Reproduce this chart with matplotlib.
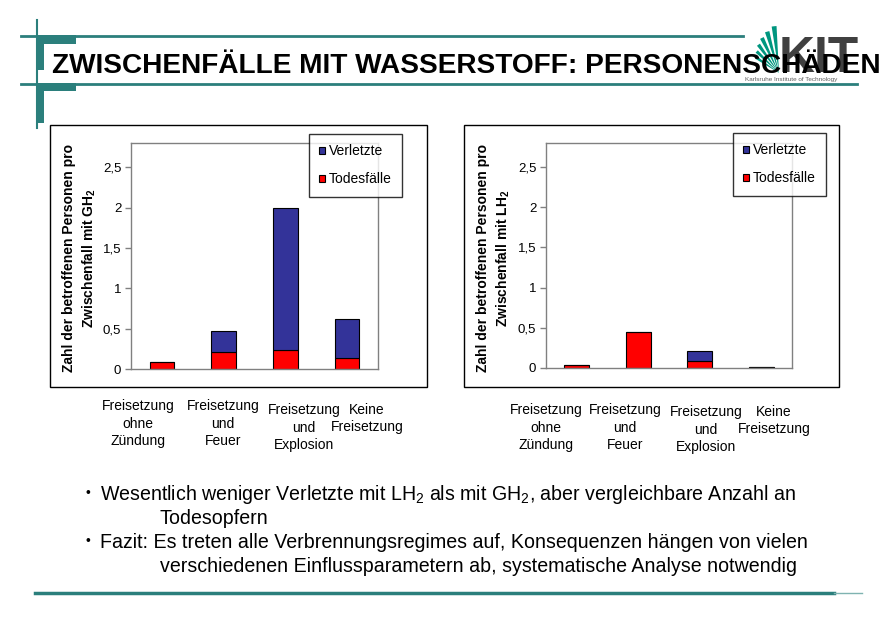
import numpy as np
import matplotlib
matplotlib.use("Agg")
import matplotlib.pyplot as plt
from matplotlib.patches import Rectangle, Wedge
from matplotlib import font_manager

# data (stacked: Todesfaelle at bottom, Verletzte on top)
categories = ["Freisetzung\nohne\nZündung", "Freisetzung\nund\nFeuer",
              "Freisetzung\nund\nExplosion", "Keine\nFreisetzung"]
gh2_tote = [0.09, 0.21, 0.24, 0.14]
gh2_verletzte = [0.0, 0.26, 1.76, 0.48]
lh2_tote = [0.04, 0.45, 0.09, 0.01]
lh2_verletzte = [0.0, 0.0, 0.12, 0.0]
yticks = [0, 0.5, 1, 1.5, 2, 2.5]
yticklabels = ["0", "0,5", "1", "1,5", "2", "2,5"]

title = "ZWISCHENFÄLLE MIT WASSERSTOFF: PERSONENSCHÄDEN"
bullets = [
    "Wesentlich weniger Verletzte mit LH$_2$ als mit GH$_2$, aber vergleichbare Anzahl an",
    "Todesopfern",
    "Fazit: Es treten alle Verbrennungsregimes auf, Konsequenzen hängen von vielen",
    "verschiedenen Einflussparametern ab, systematische Analyse notwendig",
]

plt.rcParams['font.family'] = ['Liberation Sans', 'DejaVu Sans']
plt.rcParams['mathtext.fontset'] = 'custom'
plt.rcParams['mathtext.rm'] = 'Liberation Sans'
plt.rcParams['mathtext.it'] = 'Liberation Sans:italic'
plt.rcParams['mathtext.bf'] = 'Liberation Sans:bold'

names = {f.name for f in font_manager.fontManager.ttflist}
narrow = 'Liberation Sans Narrow' if 'Liberation Sans Narrow' in names else 'Liberation Sans'

W, H = 890, 629
fig = plt.figure(figsize=(W / 100, H / 100), dpi=100)
teal = '#2b7f7c'
blue = '#333399'
red = '#ff0000'

# overlay in pixel coords for the slide decoration
ov = fig.add_axes([0, 0, 1, 1], zorder=0)
ov.set_xlim(0, W)
ov.set_ylim(H, 0)
ov.axis('off')

def fit(t, width_px):
    r = fig.canvas.get_renderer()
    w = t.get_window_extent(renderer=r).width
    t.set_fontsize(t.get_fontsize() * width_px / w)

# teal frame lines
ov.plot([37, 37], [20, 128], color=teal, lw=1.5)
ov.plot([21, 743], [36, 36], color=teal, lw=2)
ov.plot([21, 857], [83.5, 83.5], color=teal, lw=2)
ov.add_patch(Rectangle((36, 35), 40, 9, color=teal, lw=0))
ov.add_patch(Rectangle((36, 35), 8, 35, color=teal, lw=0))
ov.add_patch(Rectangle((36, 83), 40, 8, color=teal, lw=0))
ov.add_patch(Rectangle((36, 83), 8, 40, color=teal, lw=0))
ov.plot([35, 834], [593, 593], color=teal, lw=2.5)
ov.plot([834, 862], [593, 593], color='#7fb3b1', lw=1)

# KIT logo (rough): fan of wedges, y axis is flipped so angles are negated
for a in range(6):
    th = 93 + a * 10
    ov.add_patch(Wedge((779, 73), 47 - a * 4, -(th + 6), -th, color='#00967f', lw=0, zorder=1))
kit = ov.text(779, 72, "KIT", fontsize=40, fontweight='bold', color='#404040',
              family=narrow, ha='left', va='baseline', zorder=1)
fit(kit, 80)
ov.text(745, 79, "Karlsruhe Institute of Technology", fontsize=4.6, color='#606060',
        ha='left', va='center', zorder=3)

tt = ov.text(52, 73, title, fontsize=20, fontweight='bold', family=narrow,
             ha='left', va='baseline', zorder=2)
fit(tt, 828)

# outer chart boxes
ov.add_patch(Rectangle((50, 125), 377, 262, fill=False, ec='black', lw=1))
ov.add_patch(Rectangle((464, 125), 375, 262, fill=False, ec='black', lw=1))

def chart(rect, tote, verl, gas, ylabel_x, label_xy, leg_xy, cat_x, cat_y):
    x0, y0, x1, y1 = rect
    ax = fig.add_axes([x0 / W, 1 - y1 / H, (x1 - x0) / W, (y1 - y0) / H], zorder=2)
    x = np.arange(len(categories))
    b1 = ax.bar(x, tote, width=0.4, color=red, edgecolor='black', lw=0.8, label='Todesfälle')
    b2 = ax.bar(x, verl, width=0.4, bottom=tote, color=blue, edgecolor='black', lw=0.8,
                label='Verletzte')
    ax.set_xlim(-0.5, 3.5)
    ax.set_ylim(0, 2.8)
    ax.set_yticks(yticks)
    ax.set_yticklabels(yticklabels, fontsize=9.5)
    ax.set_xticks([])
    for s in ax.spines.values():
        s.set_color('#808080')
        s.set_linewidth(1)
    ax.tick_params(axis='y', direction='out', length=4, width=1, color='#808080', pad=3)
    leg = ax.legend([b2, b1], ['Verletzte', 'Todesfälle'], loc='upper left',
                    bbox_to_anchor=(leg_xy[0] / W, 1 - leg_xy[1] / H),
                    bbox_transform=fig.transFigure, fontsize=10, frameon=True,
                    fancybox=False, handlelength=0.4, handleheight=0.4,
                    handletextpad=0.25, borderpad=0.75, labelspacing=1.0,
                    borderaxespad=0)
    leg.get_frame().set_edgecolor('black')
    leg.get_frame().set_linewidth(1)
    ov.text(label_xy[0], label_xy[1], gas.replace("2", "$_2$"), fontsize=13.5,
            ha='left', va='center', zorder=3)
    ov.text(ylabel_x, 258, "Zahl der betroffenen Personen pro\nZwischenfall mit "
            + gas[:2] + r"$_\mathbf{2}$", fontsize=10, fontweight='bold',
            rotation=90, ha='center', va='center', multialignment='center',
            linespacing=1.35, zorder=3)
    # category labels, one text per line
    for cx, cy, lab in zip(cat_x, cat_y, categories):
        for i, part in enumerate(lab.split("\n")):
            ov.text(cx, cy + i * 17.5, part, fontsize=10, ha='center', va='center', zorder=3)
    return ax

chart((131, 143, 378, 369), gh2_tote, gh2_verletzte, "GH2", 80, (169, 179), (309, 134),
      [138, 223, 304, 367], [406, 406, 410, 410])
chart((546, 143, 792, 368), lh2_tote, lh2_verletzte, "LH2", 494, (578, 181), (733, 133),
      [546, 625, 706, 774], [410, 410, 412, 412])

# bullet text
bx = [100, 160, 100, 160]
by = [495, 518, 543, 567]
lines = []
for x, y, s in zip(bx, by, bullets):
    lines.append(ov.text(x, y, s, fontsize=14, family=narrow, ha='left', va='center', zorder=3))
fit(lines[0], 700)
for t in lines[1:]:
    t.set_fontsize(lines[0].get_fontsize())
for y in [495, 543]:
    ov.text(88, y - 2, "•", fontsize=10, ha='center', va='center', zorder=3)

fig.savefig("out.png", dpi=100)
